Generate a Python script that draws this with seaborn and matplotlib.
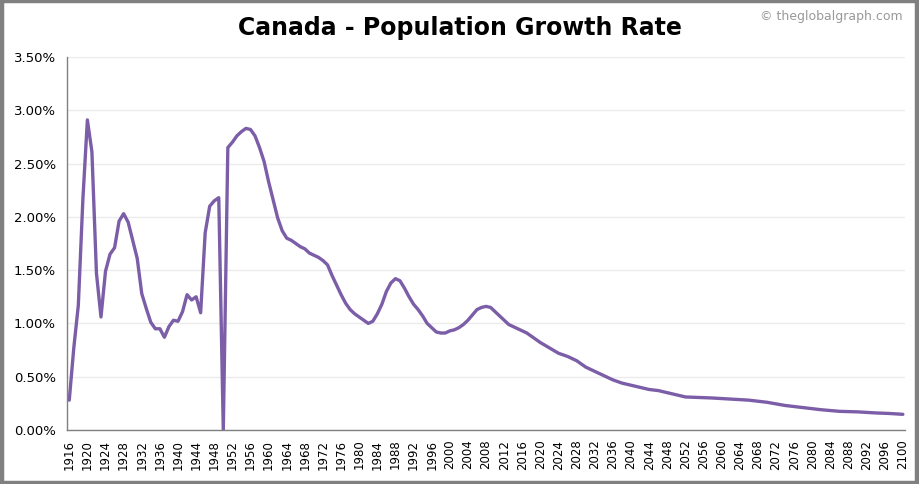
import numpy as np
import pandas as pd
import matplotlib.pyplot as plt
import matplotlib.ticker as ticker
from matplotlib.patches import Rectangle
import seaborn as sns

# --- Data (% per year) ---
years = [
    1916, 1917, 1918, 1919, 1920, 1921, 1922, 1923, 1924, 1925,
    1926, 1927, 1928, 1929, 1930, 1931, 1932, 1933, 1934, 1935,
    1936, 1937, 1938, 1939, 1940, 1941, 1942, 1943, 1944, 1945,
    1946, 1947, 1948, 1949, 1950, 1951, 1952, 1953, 1954, 1955,
    1956, 1957, 1958, 1959, 1960, 1961, 1962, 1963, 1964, 1965,
    1966, 1967, 1968, 1969, 1970, 1971, 1972, 1973, 1974, 1975,
    1976, 1977, 1978, 1979, 1980, 1981, 1982, 1983, 1984, 1985,
    1986, 1987, 1988, 1989, 1990, 1991, 1992, 1993, 1994, 1995,
    1996, 1997, 1998, 1999, 2000, 2001, 2002, 2003, 2004, 2005,
    2006, 2007, 2008, 2009, 2010, 2011, 2012, 2013, 2014, 2015,
    2016, 2017, 2018, 2020, 2022, 2024, 2026, 2028, 2030, 2032,
    2034, 2036, 2038, 2040, 2042, 2044, 2046, 2048, 2050, 2052,
    2055, 2058, 2062, 2066, 2070, 2074, 2078, 2082, 2086, 2090,
    2094, 2097, 2100,
]
growth = [
    0.28, 0.77, 1.17, 2.16, 2.91, 2.61, 1.47, 1.06, 1.49, 1.65,
    1.71, 1.96, 2.03, 1.95, 1.78, 1.61, 1.28, 1.14, 1.01, 0.95,
    0.95, 0.87, 0.97, 1.03, 1.02, 1.11, 1.27, 1.22, 1.25, 1.10,
    1.85, 2.10, 2.15, 2.18, 0.00, 2.65, 2.70, 2.76, 2.80, 2.83,
    2.82, 2.76, 2.65, 2.52, 2.33, 2.16, 1.99, 1.87, 1.80, 1.78,
    1.75, 1.72, 1.70, 1.66, 1.64, 1.62, 1.59, 1.55, 1.45, 1.36,
    1.27, 1.19, 1.13, 1.09, 1.06, 1.03, 1.00, 1.02, 1.09, 1.18,
    1.30, 1.38, 1.42, 1.40, 1.33, 1.25, 1.18, 1.13, 1.07, 1.00,
    0.96, 0.92, 0.91, 0.91, 0.93, 0.94, 0.96, 0.99, 1.03, 1.08,
    1.13, 1.15, 1.16, 1.15, 1.11, 1.07, 1.03, 0.99, 0.97, 0.95,
    0.93, 0.91, 0.88, 0.82, 0.77, 0.72, 0.69, 0.65, 0.59, 0.55,
    0.51, 0.47, 0.44, 0.42, 0.40, 0.38, 0.37, 0.35, 0.33, 0.31,
    0.305, 0.30, 0.29, 0.28, 0.26, 0.23, 0.21, 0.19, 0.175, 0.17,
    0.16, 0.155, 0.147,
]
y_ticks = [0.0, 0.5, 1.0, 1.5, 2.0, 2.5, 3.0, 3.5]

df = pd.DataFrame({"year": years, "growth": growth})

# --- Plot ---
sns.set_style("white")
plt.rcParams["font.family"] = ["DejaVu Sans"]

fig = plt.figure(figsize=(9.19, 4.84), dpi=100)
ax = fig.add_axes([0.0729, 0.1116, 0.912, 0.7706])

sns.lineplot(data=df, x="year", y="growth", color="#7b5ea7", linewidth=2.4, ax=ax)

ax.set_xlim(1915.5, 2100.5)
ax.set_ylim(0, 3.5)
ax.set_yticks(y_ticks)
ax.yaxis.set_major_formatter(ticker.FuncFormatter(lambda v, p: f"{v:.2f}%"))
ax.set_xticks(list(range(1916, 2101, 4)))
ax.xaxis.set_minor_locator(ticker.MultipleLocator(1))
ax.tick_params(axis="x", which="both", direction="out", length=4, width=0.8,
               color="#808080", labelsize=8.5, labelcolor="black", rotation=90, pad=3)
ax.tick_params(axis="y", direction="out", length=4, width=0.8,
               color="#808080", labelsize=9.5, labelcolor="black", pad=4)
ax.set_xlabel("")
ax.set_ylabel("")

ax.grid(axis="y", color="#ebebeb", linewidth=1)
ax.set_axisbelow(True)
for side in ["top", "right"]:
    ax.spines[side].set_visible(False)
for side in ["left", "bottom"]:
    ax.spines[side].set_color("#808080")
    ax.spines[side].set_linewidth(1)

fig.text(0.5, 0.943, "Canada - Population Growth Rate", ha="center", va="center",
         fontsize=17, fontweight="bold", color="black")
fig.text(0.982, 0.965, "© theglobalgraph.com", ha="right", va="center",
         fontsize=9, color="#999999")

# outer gray frame
fig.patches.append(Rectangle((0.0017, 0.003), 0.9966, 0.994, transform=fig.transFigure,
                             fill=False, edgecolor="#808080", linewidth=3.2))

plt.savefig("out.png", dpi=100)
